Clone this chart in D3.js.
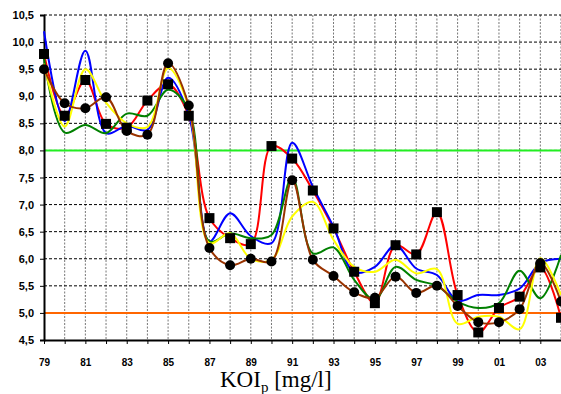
<!DOCTYPE html>
<html><head><meta charset="utf-8">
<script src="https://cdn.jsdelivr.net/npm/d3@7"></script>
<style>body{margin:0;background:#fff}svg{display:block}</style>
</head><body>
<svg id="c" width="561" height="394"></svg>
<script>
const years = ["79","80","81","82","83","84","85","86","87","88","89","90","91","92","93","94","95","96","97","98","99","00","01","02","03","04"];
const tickYears = ["79","81","83","85","87","89","91","93","95","97","99","01","03"];
const yTicks = [4.5,5.0,5.5,6.0,6.5,7.0,7.5,8.0,8.5,9.0,9.5,10.0,10.5];
const redValues =    [9.78,8.64,9.30,8.49,8.42,8.92,9.22,8.64,6.75,6.38,6.27,8.08,7.85,7.26,6.56,5.76,5.18,6.25,6.08,6.86,5.33,4.64,5.09,5.30,5.84,4.91];
const blueValues =   [10.2,8.54,9.84,8.32,8.45,8.38,9.34,8.66,6.32,6.84,6.42,6.29,8.14,7.33,6.59,5.75,5.85,6.25,5.82,5.70,5.22,5.33,5.33,5.45,5.92,6.00];
const yellowValues = [9.60,8.44,9.50,8.88,8.50,8.43,9.52,8.80,6.29,6.47,6.00,5.98,6.78,7.05,6.35,5.85,5.76,5.98,5.73,5.81,4.80,4.93,4.93,4.70,6.01,5.33];
const greenValues =  [9.70,8.33,8.47,8.32,8.68,8.64,9.12,8.75,6.32,6.47,6.38,6.44,7.50,6.10,6.21,5.61,5.24,5.85,5.61,5.50,5.21,5.09,5.18,5.78,5.27,6.07];
const brownValues =  [9.50,8.87,8.78,8.98,8.36,8.29,9.61,8.83,6.20,5.88,6.00,5.95,7.45,5.98,5.68,5.38,5.28,5.67,5.37,5.50,5.13,4.83,4.83,5.07,5.92,5.21];
const upperLimit = 8.0, lowerLimit = 5.0;

const svg = d3.select("#c");
const L = 44, R = 561, T = 15, B = 340;
const x = d3.scaleLinear().domain([0, years.length - 1]).range([L, R]);
const y = d3.scaleLinear().domain([4.5, 10.5]).range([B, T]);
const fmt = v => d3.format(".1f")(v).replace(".", ",");

// vertical grid
svg.append("g").selectAll("line").data(years.slice(1)).join("line")
  .attr("x1", (d,i) => x(i+1)).attr("x2", (d,i) => x(i+1))
  .attr("y1", T).attr("y2", B)
  .attr("stroke", "#777").attr("stroke-width", 1).attr("stroke-dasharray", "2,1.5");
// horizontal grid
svg.append("g").selectAll("line").data(yTicks.slice(1)).join("line")
  .attr("x1", L).attr("x2", R).attr("y1", d => y(d)).attr("y2", d => y(d))
  .attr("stroke", "#000").attr("stroke-width", 1).attr("stroke-dasharray", "3,2");

// reference lines
svg.append("line").attr("x1", L).attr("x2", R).attr("y1", y(upperLimit)).attr("y2", y(upperLimit))
  .attr("stroke", "#22ee22").attr("stroke-width", 2);
svg.append("line").attr("x1", L).attr("x2", R).attr("y1", y(lowerLimit)).attr("y2", y(lowerLimit))
  .attr("stroke", "#ff6600").attr("stroke-width", 2);

// axes
const yAxis = d3.axisLeft(y).tickValues(yTicks).tickFormat(fmt).tickSize(4);
const gy = svg.append("g").attr("transform", `translate(${L},0)`).call(yAxis);
gy.select(".domain").attr("stroke-width", 2);
gy.selectAll("text").attr("font-family", "Liberation Sans, Arial, sans-serif").attr("font-weight", "bold").attr("font-size", 11).attr("x", -10);
const xAxis = d3.axisBottom(x).tickValues(d3.range(years.length)).tickFormat(i => tickYears.includes(years[i]) ? years[i] : "").tickSize(4).tickSizeOuter(0);
const gx = svg.append("g").attr("transform", `translate(0,${B})`).call(xAxis);
gx.select(".domain").attr("stroke-width", 2);
gx.selectAll("text").attr("font-family", "Liberation Sans, Arial, sans-serif").attr("font-weight", "bold").attr("font-size", 10).attr("dy", "1.9em");

// series
const line = d3.line().x((d,i) => x(i)).y(d => y(d)).curve(d3.curveCatmullRom.alpha(0.5));
const series = [
  {v: redValues, c: "#ff0000"},
  {v: blueValues, c: "#0000ff"},
  {v: greenValues, c: "#008000"},
  {v: yellowValues, c: "#ffff00"},
  {v: brownValues, c: "#993300"}
];
svg.append("g").selectAll("path").data(series).join("path")
  .attr("d", d => line(d.v)).attr("fill", "none").attr("stroke", d => d.c).attr("stroke-width", 2);

// markers
svg.append("g").selectAll("rect").data(redValues).join("rect")
  .attr("x", (d,i) => x(i) - 5).attr("y", d => y(d) - 5).attr("width", 10).attr("height", 10).attr("fill", "#000");
svg.append("g").selectAll("circle").data(brownValues).join("circle")
  .attr("cx", (d,i) => x(i)).attr("cy", d => y(d)).attr("r", 5).attr("fill", "#000");

// title
const t = svg.append("text").attr("x", 220).attr("y", 387)
  .attr("font-family", "Liberation Serif, Times New Roman, serif").attr("font-size", 23);
t.append("tspan").text("KOI");
t.append("tspan").text("p").attr("font-size", 15).attr("dy", 5);
t.append("tspan").text(" [mg/l]").attr("dy", -5);
</script>
</body></html>
